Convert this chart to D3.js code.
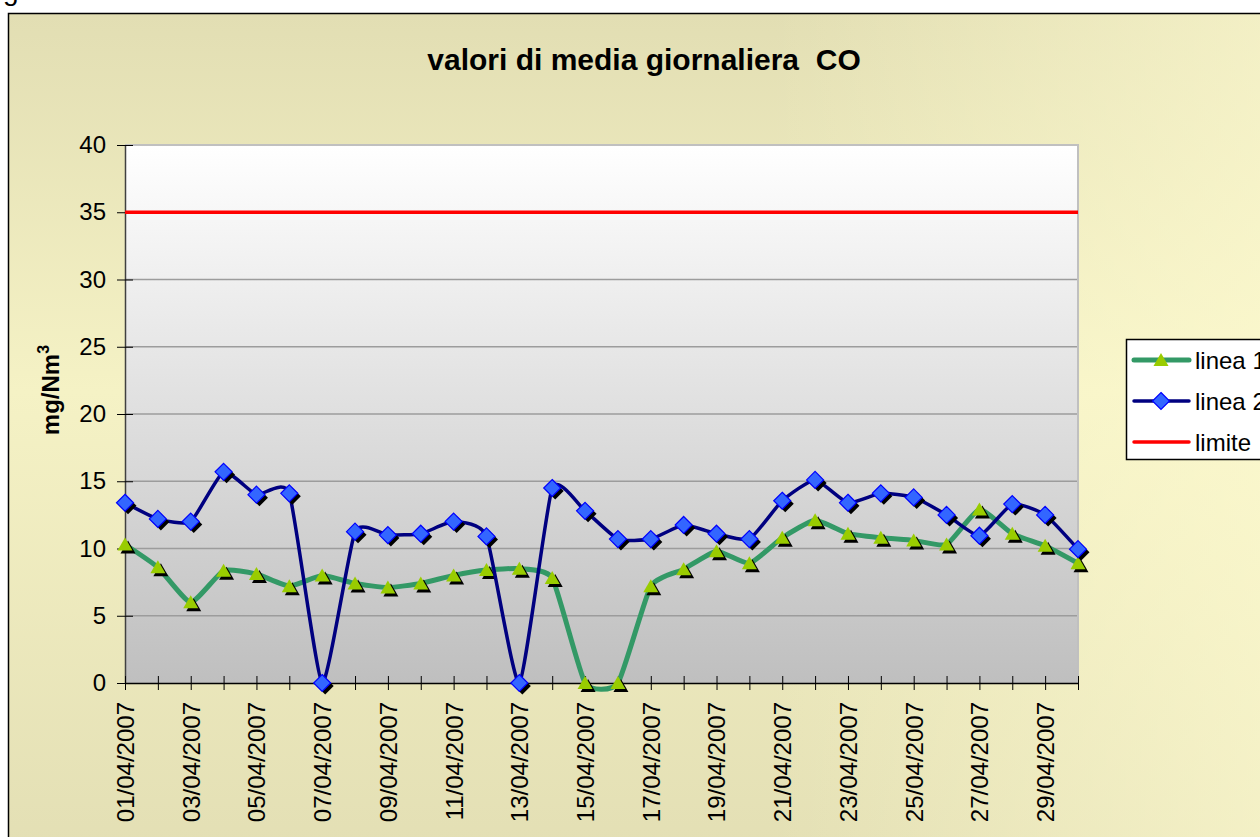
<!DOCTYPE html>
<html>
<head>
<meta charset="utf-8">
<script src="https://cdn.jsdelivr.net/npm/d3@7"></script>
<style>
    body { margin: 0; background: #fff; }
    svg { display: block; font-family: Arial, "Liberation Sans", sans-serif; }
</style>
</head>
<body>
<svg id="chart" width="1260" height="837"></svg>
<script>
let dates = ['01/04/2007', '02/04/2007', '03/04/2007', '04/04/2007', '05/04/2007', '06/04/2007',
    '07/04/2007', '08/04/2007', '09/04/2007', '10/04/2007', '11/04/2007', '12/04/2007',
    '13/04/2007', '14/04/2007', '15/04/2007', '16/04/2007', '17/04/2007', '18/04/2007',
    '19/04/2007', '20/04/2007', '21/04/2007', '22/04/2007', '23/04/2007', '24/04/2007',
    '25/04/2007', '26/04/2007', '27/04/2007', '28/04/2007', '29/04/2007', '30/04/2007'];

let linea1 = [10.3, 8.6, 6.0, 8.35, 8.1, 7.2, 8.0, 7.4, 7.1, 7.4, 8.0, 8.4, 8.5, 7.8, 0,
    0, 7.2, 8.45, 9.8, 8.9, 10.8, 12.1, 11.1, 10.8, 10.6, 10.3, 12.9, 11.1, 10.2, 8.9];

let linea2 = [13.4, 12.2, 12.0, 15.7, 14.0, 14.1, 0, 11.25, 11.0, 11.1, 12.0, 10.9, 0, 14.5, 12.8,
    10.7, 10.7, 11.75, 11.1, 10.7, 13.55, 15.1, 13.4, 14.1, 13.8, 12.5, 10.95, 13.3, 12.5, 9.95];

let limite = [35, 35, 35, 35, 35, 35, 35, 35, 35, 35, 35, 35, 35, 35, 35,
    35, 35, 35, 35, 35, 35, 35, 35, 35, 35, 35, 35, 35, 35, 35];

let yTicks = [0, 5, 10, 15, 20, 25, 30, 35, 40];
let seriesNames = ['linea 1', 'linea 2', 'limite'];

let svg = d3.select('#chart');
let defs = svg.append('defs');

// chart area background (beige, lighter in the middle and on the right)
let bgV = defs.append('linearGradient').attr('id', 'bgV')
    .attr('x1', 0).attr('y1', 0).attr('x2', 0).attr('y2', 1);
bgV.append('stop').attr('offset', '0%').attr('stop-color', '#e2deb3');
bgV.append('stop').attr('offset', '45%').attr('stop-color', '#f5f2c5');
bgV.append('stop').attr('offset', '100%').attr('stop-color', '#e3dfb4');

let bgH = defs.append('linearGradient').attr('id', 'bgH')
    .attr('x1', 0).attr('y1', 0).attr('x2', 1).attr('y2', 0);
bgH.append('stop').attr('offset', '0%').attr('stop-color', '#fffcd2').attr('stop-opacity', 0);
bgH.append('stop').attr('offset', '60%').attr('stop-color', '#fffcd2').attr('stop-opacity', 0);
bgH.append('stop').attr('offset', '100%').attr('stop-color', '#fffcd2').attr('stop-opacity', 0.6);

let plotGrad = defs.append('linearGradient').attr('id', 'plotGrad')
    .attr('x1', 0).attr('y1', 0).attr('x2', 0).attr('y2', 1);
plotGrad.append('stop').attr('offset', '0%').attr('stop-color', '#ffffff');
plotGrad.append('stop').attr('offset', '100%').attr('stop-color', '#bfbfbf');

// stray text from the page above the chart
svg.append('text')
    .attr('x', 3).attr('y', 0)
    .style('font-size', '28px')
    .text('g');

svg.append('rect')
    .attr('x', 8.5).attr('y', 13.5).attr('width', 1270).attr('height', 840)
    .attr('fill', 'url(#bgV)');
svg.append('rect')
    .attr('x', 8.5).attr('y', 13.5).attr('width', 1270).attr('height', 840)
    .attr('fill', 'url(#bgH)')
    .attr('stroke', '#000')
    .attr('stroke-width', 1.5);

let plotLeft = 125, plotRight = 1078, plotTop = 145, plotBottom = 683;

let xscale = d3.scalePoint()
    .domain(dates)
    .range([plotLeft, plotRight]);

let yscale = d3.scaleLinear()
    .domain([0, 40])
    .range([plotBottom, plotTop]);

svg.append('rect')
    .attr('x', plotLeft).attr('y', plotTop)
    .attr('width', plotRight - plotLeft).attr('height', plotBottom - plotTop)
    .attr('fill', 'url(#plotGrad)');

// gridlines
svg.append('g')
    .selectAll('line')
    .data(yTicks.filter(d => d > 0 && d < 40))
    .join('line')
    .attr('x1', plotLeft).attr('x2', plotRight)
    .attr('y1', d => yscale(d)).attr('y2', d => yscale(d))
    .attr('stroke', '#9c9c9c')
    .attr('stroke-width', 1.3);

// plot border top / right
svg.append('path')
    .attr('d', `M${plotLeft},${yscale(40)}H${plotRight}V${plotBottom}`)
    .attr('fill', 'none')
    .attr('stroke', '#c0c0c0')
    .attr('stroke-width', 2);

let yaxis = d3.axisLeft(yscale)
    .tickValues(yTicks)
    .tickSize(8)
    .tickSizeOuter(0)
    .tickPadding(11);

let yg = svg.append('g')
    .attr('transform', `translate(${plotLeft}, 0)`)
    .call(yaxis);
yg.select('.domain').attr('stroke', '#404040').attr('stroke-width', 1.5);
yg.selectAll('.tick line').attr('x1', 8).attr('stroke', '#000');
yg.selectAll('.tick text')
    .style('font-size', '24px')
    .style('font-family', 'Arial, "Liberation Sans", sans-serif')
    .attr('fill', '#000');

let xaxis = d3.axisBottom(xscale)
    .tickSize(7)
    .tickSizeOuter(0)
    .tickFormat((d, i) => i % 2 === 0 ? d : '');

let xg = svg.append('g')
    .attr('transform', `translate(0, ${plotBottom})`)
    .call(xaxis);
xg.select('.domain').attr('stroke', '#000').attr('stroke-width', 1.5);
xg.selectAll('.tick line').attr('y1', -7).attr('stroke', '#000');
xg.selectAll('.tick text')
    .attr('transform', 'rotate(-90)')
    .attr('text-anchor', 'end')
    .attr('x', -19)
    .attr('y', 0)
    .attr('dy', '0.35em')
    .style('font-size', '24px')
    .style('font-family', 'Arial, "Liberation Sans", sans-serif')
    .attr('fill', '#000');

// titles
svg.append('text')
    .attr('x', 644).attr('y', 70)
    .attr('text-anchor', 'middle')
    .style('font-size', '30px')
    .style('font-weight', 'bold')
    .style('white-space', 'pre')
    .text('valori di media giornaliera  CO');

let ytitle = svg.append('text')
    .attr('transform', 'translate(59, 390) rotate(-90)')
    .attr('text-anchor', 'middle')
    .style('font-size', '24px')
    .style('font-weight', 'bold');
ytitle.append('tspan').text('mg/Nm');
ytitle.append('tspan').attr('dy', -10).style('font-size', '16px').text('3');

// series
let curve = d3.curveCardinal.tension(0.5);
let line = d3.line()
    .x((d, i) => xscale(dates[i]))
    .y(d => yscale(d))
    .curve(curve);

let triangle = 'M0,-7L7.5,6L-7.5,6Z';
let diamond = 'M0,-8.5L8.5,0L0,8.5L-8.5,0Z';

let series = [
    { name: seriesNames[0], values: linea1, color: '#339966', width: 5, marker: triangle, fill: '#99cc00', stroke: 'none', smooth: true },
    { name: seriesNames[1], values: linea2, color: '#000080', width: 3.5, marker: diamond, fill: '#3366ff', stroke: '#0000ff', smooth: true },
    { name: seriesNames[2], values: limite, color: '#ff0000', width: 3.5, marker: null, smooth: false }
];

series.forEach(s => {
    let g = svg.append('g');
    line.curve(s.smooth ? curve : d3.curveLinear);
    g.append('path')
        .attr('d', line(s.values))
        .attr('fill', 'none')
        .attr('stroke', s.color)
        .attr('stroke-width', s.width)
        .attr('stroke-linejoin', 'round');

    if (s.marker) {
        g.selectAll('.shadow')
            .data(s.values)
            .join('path')
            .attr('class', 'shadow')
            .attr('d', s.marker)
            .attr('transform', (d, i) => `translate(${xscale(dates[i]) + 3}, ${yscale(d) + 3})`)
            .attr('fill', '#000');
        g.selectAll('.marker')
            .data(s.values)
            .join('path')
            .attr('class', 'marker')
            .attr('d', s.marker)
            .attr('transform', (d, i) => `translate(${xscale(dates[i])}, ${yscale(d)})`)
            .attr('fill', s.fill)
            .attr('stroke', s.stroke)
            .attr('stroke-width', 1.2);
    }
});

// legend
let legend = svg.append('g');
legend.append('rect')
    .attr('x', 1126.5).attr('y', 339.5)
    .attr('width', 200).attr('height', 120)
    .attr('fill', '#fff')
    .attr('stroke', '#000')
    .attr('stroke-width', 1.5);

series.forEach((s, i) => {
    let ly = 360 + 41 * i;
    legend.append('line')
        .attr('x1', 1134).attr('x2', 1189)
        .attr('y1', ly).attr('y2', ly)
        .attr('stroke', s.color)
        .attr('stroke-width', s.width)
        .attr('stroke-linecap', 'round');
    if (s.marker) {
        legend.append('path')
            .attr('d', s.marker)
            .attr('transform', `translate(1161, ${ly})`)
            .attr('fill', s.fill)
            .attr('stroke', s.stroke)
            .attr('stroke-width', 1.2);
    }
    legend.append('text')
        .attr('x', 1195).attr('y', ly + 9)
        .style('font-size', '24px')
        .text(s.name);
});
</script>
</body>
</html>
